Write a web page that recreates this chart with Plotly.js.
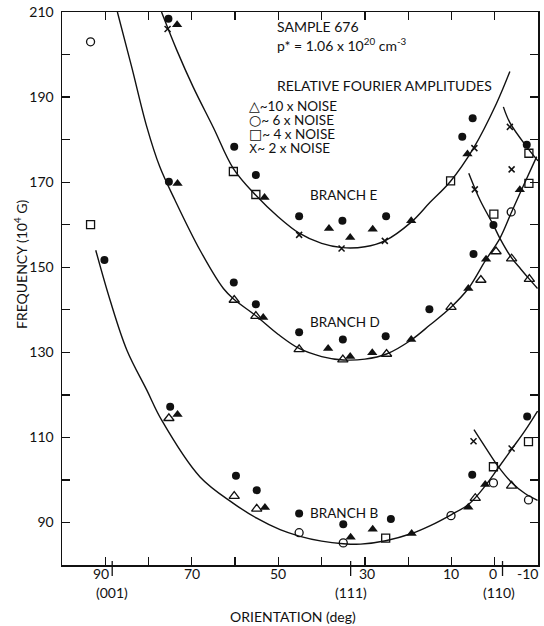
<!DOCTYPE html>
<html><head><meta charset="utf-8">
<script src="https://cdn.plot.ly/plotly-3.0.1.min.js"></script>
<style>html,body{margin:0;padding:0;background:#fff}#chart{width:544px;height:626px}</style>
</head><body><div id="chart"></div>
<script>
// ---- data (orientation in deg, frequency in 10^4 G) ----
const curveE_x = [77.0, 73.5, 69.7, 65.0, 60.4, 55.2, 50.0, 45.2, 40.0, 35.2, 30.0, 25.4, 19.3, 15.0, 10.3, 4.9, -0.4, -3.5];
const curveE_y = [210, 201.1, 192.4, 182.8, 173.2, 166.9, 161.8, 158.0, 155.6, 154.6, 154.8, 156.2, 160.6, 165.2, 170.1, 178.0, 188.5, 196.0];
const curveD_x = [87.2, 83.9, 80.4, 77.4, 73.9, 68.1, 62.7, 60.2, 55.2, 50.0, 45.2, 40.0, 35.0, 30.0, 25.0, 19.3, 15.0, 10.1, 6.1, 2.2, -1.2, -3.9, -6.2, -9.7];
const curveD_y = [210, 197.1, 183.0, 173.6, 165.8, 154.0, 145.0, 142.4, 138.6, 134.2, 130.9, 129.0, 128.2, 128.4, 129.6, 132.9, 136.4, 140.6, 145.0, 151.5, 156.8, 163.0, 168.2, 176.0];
const curveB_x = [92.2, 88.9, 85.0, 80.4, 77.0, 68.1, 60.4, 55.0, 49.6, 45.2, 40.0, 35.0, 31.0, 25.2, 19.2, 15.0, 10.1, 6.0, 2.2, -0.8, -3.9, -7.0, -9.9];
const curveB_y = [154.0, 142.3, 130.5, 121.1, 114.1, 100.7, 94.5, 91.0, 88.3, 86.8, 85.6, 85.0, 84.9, 85.7, 87.4, 89.2, 91.8, 94.3, 98.6, 102.8, 107.2, 111.6, 116.2];
const crossE_x = [-2.0, -3.5, -7.4, -10.0];
const crossE_y = [187.7, 184.0, 178.3, 175.0];
const crossD_x = [6.0, 3.4, 0.3, -1.2, -3.9, -6.0, -8.0, -9.9];
const crossD_y = [172.1, 165.8, 159.9, 156.8, 152.2, 149.6, 147.2, 145.0];
const crossB_x = [4.8, 2.0, -0.7, -3.9, -7.0, -9.9];
const crossB_y = [111.8, 107.4, 103.3, 99.4, 96.8, 95.2];

const filledCircle_x = [90.2, 75.4, 60.2, 55.2, 75.3, 60.3, 55.2, 75.0, 59.8, 55.0, 45.2, 35.2, 25.1, 7.5, 5.1, -7.4, 0.3, 4.9, 15.1, 25.2, 35.1, 45.2, 45.2, 35.0, 24.0, 5.2, -7.5];
const filledCircle_y = [151.7, 208.4, 178.3, 171.7, 170.1, 146.4, 141.3, 117.2, 101.0, 97.6, 162.0, 160.9, 162.0, 180.7, 185.0, 178.8, 159.9, 153.1, 140.1, 133.8, 133.0, 134.7, 92.1, 89.6, 90.8, 101.2, 114.9];
const filledTri_x = [73.4, 53.2, 73.3, 53.5, 73.3, 53.1, 38.3, 33.4, 28.2, 19.3, 6.3, -5.8, 2.0, 6.1, 19.3, 28.3, 33.4, 38.5, 33.3, 28.2, 19.2, 6.1, 2.2];
const filledTri_y = [207.0, 166.4, 169.7, 138.2, 115.4, 93.5, 159.1, 157.0, 158.9, 160.9, 176.6, 168.2, 151.9, 145.0, 133.0, 129.9, 129.0, 130.9, 86.5, 88.4, 87.4, 93.6, 98.9];
const openTri_x = [60.2, 55.2, 75.3, 60.2, 55.0, -0.3, -3.9, -8.0, 3.2, 10.1, 25.0, 35.1, 45.2, 4.5, -3.9];
const openTri_y = [142.3, 138.5, 114.5, 96.2, 93.2, 153.7, 152.0, 147.2, 147.0, 140.6, 129.6, 128.3, 130.7, 95.7, 98.6];
const openCircle_x = [93.4, -3.8, 45.2, 35.0, 10.1, 0.3, -7.8];
const openCircle_y = [203.0, 163.0, 87.6, 85.2, 91.6, 99.3, 95.3];
const openSquare_x = [93.4, 60.4, 55.2, 10.2, -7.9, -7.9, 0.2, 25.2, 0.3, -7.8];
const openSquare_y = [160.0, 172.5, 167.1, 170.3, 176.8, 169.7, 162.5, 86.3, 103.1, 109.0];
const xMark_x = [75.6, 45.2, 35.4, 25.4, 4.7, -3.5, -3.9, 4.6, 4.9, -3.9];
const xMark_y = [206.0, 157.6, 154.4, 156.2, 178.0, 183.0, 173.0, 168.3, 109.1, 107.4];

const xTickVals = [90, 80, 70, 60, 50, 40, 30, 20, 10, 0, -10];
const xLabelVals = [90, 70, 50, 30, 10, 0, -10];
const xLabelText = ['90', '70', '50', '30', '10', '0', '-10'];
const yLabelVals = [90, 110, 130, 150, 170, 190, 210];
const yLabelText = ['90', '110', '130', '150', '170', '190', '210'];
const dirVals = [88.4, 33.3, -1.8];
const dirText = ['(001)', '(111)', '(110)'];
const legendSymbols = ['\u25B3', '\u25CB', '\u25A1', 'X'];
const legendText = ['~10 x NOISE', '~ 6 x NOISE', '~ 4 x NOISE', '~ 2 x NOISE'];
const branchText = ['BRANCH E', 'BRANCH D', 'BRANCH B'];

// ---- styling ----
const FONT = 'Lato, "Open Sans", sans-serif';
const INK = '#111';
const lineStyle = {color: INK, width: 1.4, shape: 'spline', smoothing: 1};

function curve(x, y) {
  return {x: x, y: y, type: 'scatter', mode: 'lines', line: lineStyle, hoverinfo: 'skip', showlegend: false, cliponaxis: true};
}
function pts(x, y, symbol, size, lw) {
  return {x: x, y: y, type: 'scatter', mode: 'markers', showlegend: false, cliponaxis: false,
    marker: {symbol: symbol, size: size, color: INK, line: {color: INK, width: lw}}};
}

const data = [
  curve(curveE_x, curveE_y), curve(curveD_x, curveD_y), curve(curveB_x, curveB_y),
  curve(crossE_x, crossE_y), curve(crossD_x, crossD_y), curve(crossB_x, crossB_y),
  pts(filledCircle_x, filledCircle_y, 'circle', 8, 0),
  pts(filledTri_x, filledTri_y, 'triangle-up', 9, 0),
  pts(openTri_x, openTri_y, 'triangle-up-open', 9, 1.3),
  pts(openCircle_x, openCircle_y, 'circle-open', 8, 1.3),
  pts(openSquare_x, openSquare_y, 'square-open', 8, 1.3),
  pts(xMark_x, xMark_y, 'x-thin', 6, 1.5)
];

// paper helpers (plot area: x 62..538 px, y 12..565 px)
const px = v => (v - 62) / 476;
const py = v => (565 - v) / 553;

const ann = [];
function txt(text, x, y, size, opts) {
  ann.push(Object.assign({text: text, x: x, y: y, xref: 'paper', yref: 'paper', showarrow: false,
    xanchor: 'left', yanchor: 'middle', font: {family: FONT, size: size, color: INK}}, opts || {}));
}
// x tick labels
const xLabelShift = [-4, 0, 0, 2, 0, -2, -11];
xLabelVals.forEach((v, i) => ann.push({text: xLabelText[i], x: v, xref: 'x', y: py(573), yref: 'paper',
  xanchor: 'center', yanchor: 'middle', xshift: xLabelShift[i], showarrow: false, font: {family: FONT, size: 14, color: INK}}));
// crystal direction labels
const dirShift = [0, 0, -4];
dirVals.forEach((v, i) => ann.push({text: dirText[i], x: v, xref: 'x', y: py(592), yref: 'paper',
  xanchor: 'center', yanchor: 'middle', xshift: dirShift[i], showarrow: false, font: {family: FONT, size: 14, color: INK}}));
// axis titles
txt('ORIENTATION (deg)', px(293), py(616), 14, {xanchor: 'center'});
txt('FREQUENCY (10<sup>4</sup> G)', px(20), py(265), 14, {xanchor: 'center', textangle: -90});
// header block
txt('SAMPLE 676', px(275), py(27), 14);
txt('p* = 1.06 x 10<sup>20</sup> cm<sup>-3</sup>', px(275), py(44), 14);
txt('RELATIVE FOURIER AMPLITUDES', px(275), py(85), 14);
const legendY = [106, 119.5, 134, 148];
legendSymbols.forEach((s, i) => {
  const symSize = i === 3 ? 12 : 14;
  txt('<span style="font-family:DejaVu Sans;font-size:' + symSize + 'px">' + s + '</span>' + legendText[i],
      px(248), py(legendY[i]), 13.5, {borderpad: 0});
});
// branch labels
const branchY = [195, 322, 513];
branchText.forEach((t, i) => txt(t, px(308), py(branchY[i]), 13.5));

const shapes = dirVals.map(v => ({type: 'line', xref: 'x', yref: 'paper', x0: v, x1: v, y0: py(561), y1: py(576),
  line: {color: INK, width: 1.3}}));

const axisCommon = {showgrid: false, zeroline: false, showline: true, linecolor: INK, linewidth: 1.5,
  ticks: 'inside', ticklen: 8, tickwidth: 1.3, tickcolor: INK, mirror: 'ticks',
  tickfont: {family: FONT, size: 14, color: INK}, fixedrange: true};

const layout = {
  width: 544, height: 626,
  margin: {l: 62, r: 6, t: 12, b: 61},
  paper_bgcolor: '#fff', plot_bgcolor: '#fff',
  showlegend: false,
  xaxis: Object.assign({}, axisCommon, {range: [100, -10], autorange: false, tickmode: 'array', tickvals: xTickVals, showticklabels: false}),
  yaxis: Object.assign({}, axisCommon, {range: [80, 210], autorange: false, tickmode: 'array', tickvals: yLabelVals, ticktext: yLabelText, ticklabelstandoff: 4,
    minor: {tickmode: 'linear', tick0: 80, dtick: 10, ticks: 'inside', ticklen: 8, tickwidth: 1.3, tickcolor: INK, showgrid: false}}),
  annotations: ann,
  shapes: shapes
};

Plotly.newPlot('chart', data, layout, {displayModeBar: false, staticPlot: true});
</script></body></html>
